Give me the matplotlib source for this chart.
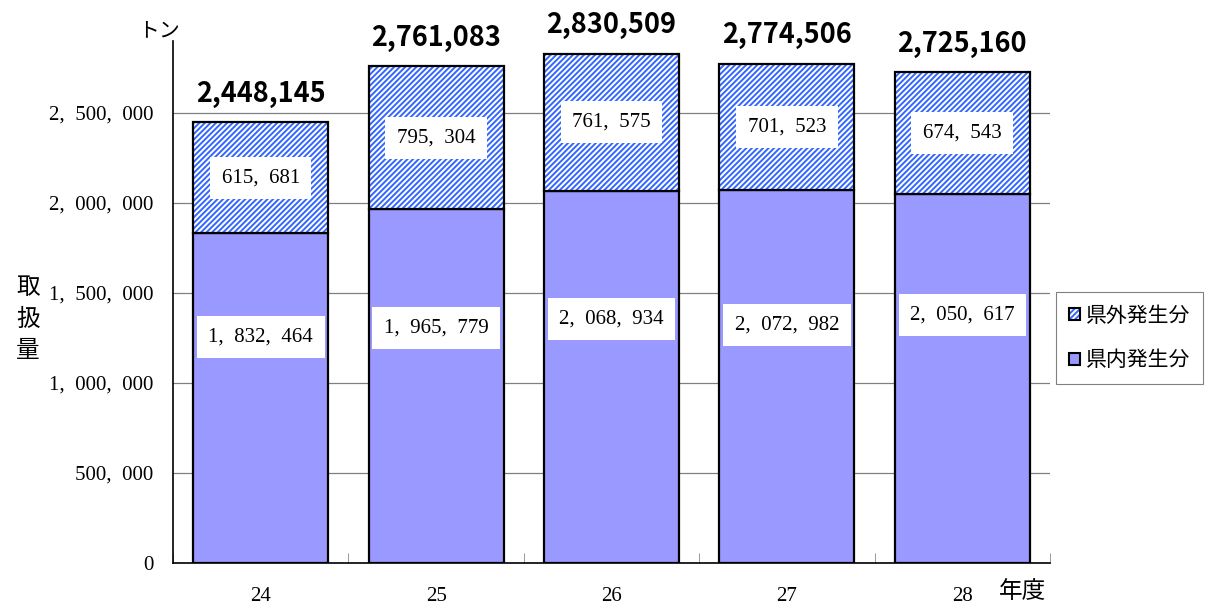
import matplotlib.pyplot as plt
import numpy as np
from matplotlib.patches import Patch
from matplotlib.ticker import FixedLocator

# 年度と取扱量（トン）
years = ['24', '25', '26', '27', '28']
inside = [1832464, 1965779, 2068934, 2072982, 2050617]   # 県内発生分
outside = [615681, 795304, 761575, 701523, 674543]       # 県外発生分
totals = [2448145, 2761083, 2830509, 2774506, 2725160]
yticks = [0, 500000, 1000000, 1500000, 2000000, 2500000]

# 県内ラベルの高さ（棒に対する割合）
inner_pos = [0.685, 0.664, 0.655, 0.638, 0.672]

plt.rcParams['hatch.linewidth'] = 1.4
serif = ['Liberation Serif', 'DejaVu Serif']
gothic = ['Noto Sans CJK JP', 'DejaVu Sans']

fig = plt.figure(figsize=(12.1, 6.05), dpi=100)
ax = fig.add_axes([173 / 1210, 42 / 605, 877 / 1210, 522 / 605])

x = np.arange(len(years))
w = 0.77
ax.bar(x, inside, w, color='#9999ff', edgecolor='black', linewidth=1.6, zorder=3)
ax.bar(x, outside, w, bottom=inside, color='white', edgecolor='#3366ff',
       linewidth=0, hatch='//////', zorder=3)
ax.bar(x, outside, w, bottom=inside, color='none', edgecolor='black',
       linewidth=1.6, zorder=4)

fmt = lambda v: f'{v:,}'.replace(',', ',  ')
box = dict(boxstyle='square,pad=0.55', facecolor='white', edgecolor='none')
for i in range(len(years)):
    ax.text(x[i], inside[i] * inner_pos[i], fmt(inside[i]), ha='center', va='center',
            fontsize=15, family=serif, bbox=box, zorder=5)
    ax.text(x[i], inside[i] + outside[i] / 2, fmt(outside[i]), ha='center', va='center',
            fontsize=15, family=serif, bbox=box, zorder=5)
    ax.text(x[i], totals[i] + 80000, f'{totals[i]:,}', ha='center', va='bottom',
            fontsize=19.5, fontweight='semibold', family=gothic, zorder=5,
            bbox=dict(boxstyle='square,pad=0.1', facecolor='white', edgecolor='none'))

ax.set_xlim(-0.5, 4.5)
ax.set_ylim(0, 2900000)
ax.set_yticks(yticks)
ax.set_yticklabels([fmt(v) for v in yticks], family=serif, fontsize=15)
ax.set_xticks(x)
ax.set_xticklabels(years, family=serif, fontsize=15)
ax.xaxis.set_minor_locator(FixedLocator(np.arange(-0.5, 5, 1)))
ax.tick_params(axis='x', which='major', length=0, pad=17)
ax.tick_params(axis='x', which='minor', direction='in', length=7, color='#888888')
ax.tick_params(axis='y', direction='in', length=0, pad=14)
ax.yaxis.grid(True, color='#808080', linewidth=0.9, zorder=0)
ax.set_axisbelow(True)
for s in ['top', 'right']:
    ax.spines[s].set_visible(False)
for s in ['left', 'bottom']:
    ax.spines[s].set_linewidth(1.2)

fig.text(138 / 1210, 1 - 30 / 605, 'トン', fontsize=15, family=gothic, va='center')
fig.text(28 / 1210, 1 - 319 / 605, '取\n扱\n量', fontsize=17, family=gothic,
         ha='center', va='center', linespacing=1.45)
fig.text(999 / 1210, 1 - 592 / 605, '年度', fontsize=17, family=gothic, va='center')

hatch_sq = (Patch(facecolor='white', edgecolor='#3366ff', hatch='//////', linewidth=0),
            Patch(facecolor='none', edgecolor='black', linewidth=1.5))
fill_sq = Patch(facecolor='#9999ff', edgecolor='black', linewidth=1.5)
leg = fig.legend([hatch_sq, fill_sq], ['県外発生分', '県内発生分'], loc='center left',
                 bbox_to_anchor=(1056 / 1210, 1 - 338 / 605), fancybox=False,
                 edgecolor='#808080', framealpha=1, prop={'family': gothic, 'size': 15},
                 handlelength=0.55, handleheight=0.55, handletextpad=0.3,
                 labelspacing=1.1, borderpad=0.6, borderaxespad=0)
leg.get_frame().set_linewidth(0.8)

fig.savefig('out.png', dpi=100)
